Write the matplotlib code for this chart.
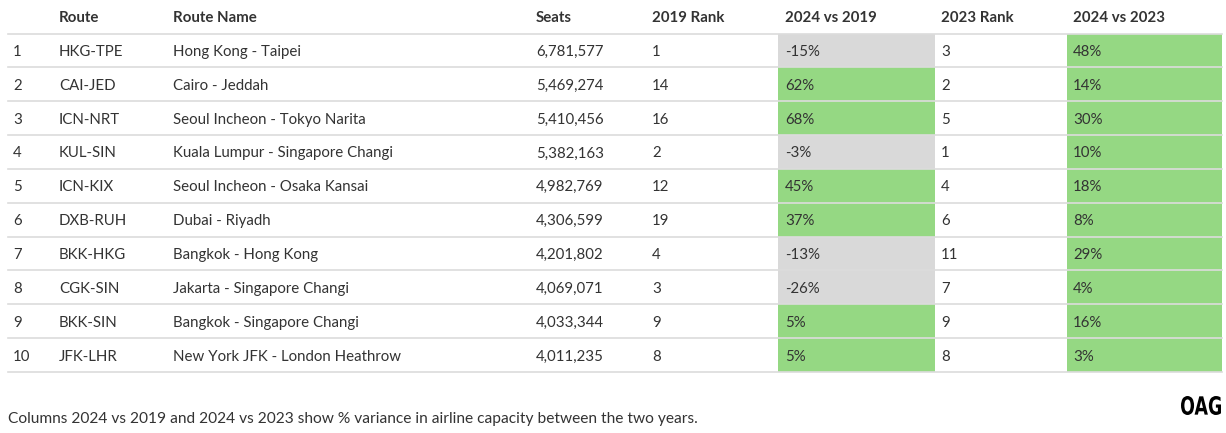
import matplotlib.pyplot as plt
from matplotlib.patches import Rectangle, PathPatch
from matplotlib.textpath import TextPath
from matplotlib.font_manager import FontProperties
from matplotlib.transforms import Affine2D

# table data
ranks = list(range(1, 11))
routes = ['HKG-TPE', 'CAI-JED', 'ICN-NRT', 'KUL-SIN', 'ICN-KIX',
          'DXB-RUH', 'BKK-HKG', 'CGK-SIN', 'BKK-SIN', 'JFK-LHR']
route_names = ['Hong Kong - Taipei', 'Cairo - Jeddah', 'Seoul Incheon - Tokyo Narita',
               'Kuala Lumpur - Singapore Changi', 'Seoul Incheon - Osaka Kansai',
               'Dubai - Riyadh', 'Bangkok - Hong Kong', 'Jakarta - Singapore Changi',
               'Bangkok - Singapore Changi', 'New York JFK - London Heathrow']
seats = [6781577, 5469274, 5410456, 5382163, 4982769,
         4306599, 4201802, 4069071, 4033344, 4011235]
rank_2019 = [1, 14, 16, 2, 12, 19, 4, 3, 9, 8]
var_2019 = [-15, 62, 68, -3, 45, 37, -13, -26, 5, 5]
rank_2023 = [3, 2, 5, 1, 4, 6, 11, 7, 9, 8]
var_2023 = [48, 14, 30, 10, 18, 8, 29, 4, 16, 3]

headers = ['', 'Route', 'Route Name', 'Seats', '2019 Rank', '2024 vs 2019', '2023 Rank', '2024 vs 2023']

W, H = 1226, 433
fig = plt.figure(figsize=(W / 100, H / 100), dpi=100)
ax = fig.add_axes([0, 0, 1, 1])
ax.set_xlim(0, W)
ax.set_ylim(H, 0)
ax.axis('off')

FONT = 'Lato'
TXT = '#333333'
GREEN = '#95d883'
GREY = '#d9d9d9'
LINE = '#dcdcdc'
FS = 10.8

col_x = [13, 59, 173, 536, 652, 785, 941, 1073]   # text left positions
fill_cols = {5: (778, 935), 7: (1067, 1222)}       # shaded column spans
left, right = 8, 1222
header_y = 17
top = 33.5
row_h = 33.85
dy = 1.5  # text baseline nudge

for j, h in enumerate(headers):
    ax.text(col_x[j], header_y + dy, h, fontsize=FS, fontweight='bold', color=TXT,
            family=FONT, va='center', ha='left')

for i in range(len(routes)):
    y0 = top + i * row_h
    yc = y0 + row_h / 2 + dy
    # shaded cells
    for col, vals in ((5, var_2019), (7, var_2023)):
        x0, x1 = fill_cols[col]
        c = GREEN if vals[i] > 0 else GREY
        ax.add_patch(Rectangle((x0, y0), x1 - x0, row_h, color=c, lw=0, zorder=1))
    cells = [str(ranks[i]), routes[i], route_names[i], f'{seats[i]:,}',
             str(rank_2019[i]), f'{var_2019[i]}%', str(rank_2023[i]), f'{var_2023[i]}%']
    for j, s in enumerate(cells):
        ax.text(col_x[j], yc, s, fontsize=FS, color=TXT, family=FONT,
                va='center', ha='left', zorder=3)

for i in range(len(routes) + 1):
    y = top + i * row_h
    ax.plot([left, right], [y, y], color=LINE, lw=1.2, zorder=2)

ax.text(8, 418 + dy, 'Columns 2024 vs 2019 and 2024 vs 2023 show % variance in airline capacity between the two years.',
        fontsize=11.2, color=TXT, family=FONT, va='center', ha='left')

# OAG logo: condensed bold lettering
tp = TextPath((0, 0), 'OAG', size=1, prop=FontProperties(family='DejaVu Sans', weight='bold'))
bb = tp.get_extents()
logo_w, logo_h = 40, 19
tr = (Affine2D().translate(-bb.x0, -bb.y0)
      .scale(logo_w / bb.width, -logo_h / bb.height)
      .translate(1181, 415))
ax.add_patch(PathPatch(tr.transform_path(tp), color='black', lw=0))

fig.savefig('out.png', dpi=100)
